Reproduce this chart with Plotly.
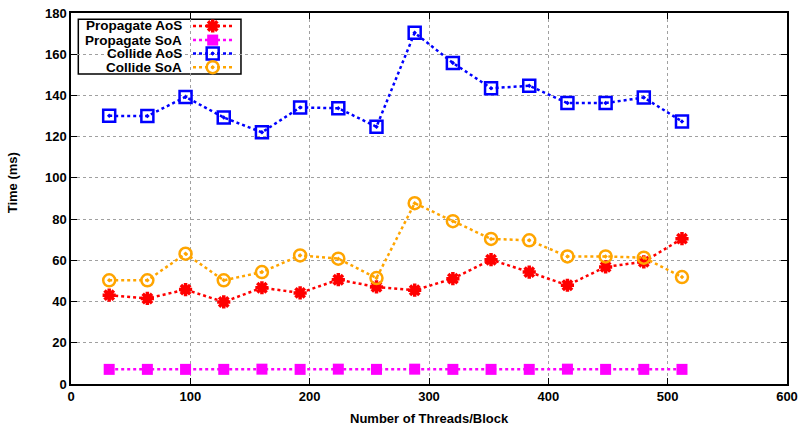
import plotly.graph_objects as go

threads = [32, 64, 96, 128, 160, 192, 224, 256, 288, 320, 352, 384, 416, 448, 480, 512]
propagate_aos = [43.1, 41.5, 45.8, 39.8, 46.7, 44.2, 50.6, 47.1, 45.5, 51.1, 60.3, 54.3, 47.9, 56.8, 59.3, 70.5]
propagate_soa = [7.1, 7.1, 7.1, 7.1, 7.2, 7.1, 7.2, 7.1, 7.2, 7.1, 7.1, 7.1, 7.2, 7.1, 7.1, 7.1]
collide_aos = [130.1, 130.0, 139.3, 129.3, 122.1, 134.2, 133.8, 124.8, 170.4, 155.8, 143.5, 144.7, 136.3, 136.3, 139.0, 127.4]
collide_soa = [50.3, 50.3, 63.2, 50.3, 54.3, 62.4, 60.8, 51.4, 87.7, 79.0, 70.4, 69.7, 61.9, 61.9, 61.3, 51.9]

names = ["Propagate AoS", "Propagate SoA", "Collide AoS", "Collide SoA"]
colors = ["#ff0000", "#ff00ff", "#0000ff", "#ffa500"]
symbols = ["asterisk-open", "square", "square-open-dot", "circle-open-dot"]
sizes = [11, 11, 12, 12]
mlw = [3.5, 0, 2.5, 2.5]
series = [propagate_aos, propagate_soa, collide_aos, collide_soa]

x_ticks = [0, 100, 200, 300, 400, 500, 600]
y_ticks = [0, 20, 40, 60, 80, 100, 120, 140, 160, 180]

FONT = "Liberation Sans, Arial, Helvetica"
DASH = "3px,3px"

fig = go.Figure()
for name, col, sym, sz, lw, ys in zip(names, colors, symbols, sizes, mlw, series):
    fig.add_trace(go.Scatter(
        x=threads, y=ys, name=name, mode="lines+markers",
        line=dict(color=col, width=2.5, dash=DASH),
        marker=dict(symbol=sym, size=sz, color=col, line=dict(color=col, width=lw)),
        showlegend=False,
    ))

# custom legend (gnuplot style: text right-aligned, sample on the right)
row_y = [0.965, 0.927, 0.891, 0.854]
lx0, lxm, lx1 = 0.1704, 0.1979, 0.2263
for name, col, sym, sz, lw, ry in zip(names, colors, symbols, sizes, mlw, row_y):
    fig.add_trace(go.Scatter(
        x=[lx0, lxm, lx1], y=[ry, ry, ry], mode="lines+markers",
        xaxis="x2", yaxis="y2", showlegend=False, hoverinfo="skip",
        line=dict(color=col, width=2.5, dash=DASH),
        marker=dict(symbol=sym, size=sz, color=col, opacity=[0, 1, 0],
                    line=dict(color=col, width=lw)),
    ))
    fig.add_annotation(x=0.1578, y=ry, xref="paper", yref="paper", text="<b>" + name + "</b>",
                       showarrow=False, xanchor="right", yanchor="middle",
                       font=dict(family=FONT, size=13.5, color="black"))

fig.add_shape(type="rect", xref="paper", yref="paper", x0=0.0102, x1=0.2374, y0=0.8356, y1=0.983,
              line=dict(color="black", width=1.5), fillcolor="white", layer="below")

# axis titles
fig.add_annotation(x=0.5, y=-0.093, xref="paper", yref="paper", text="<b>Number of Threads/Block</b>",
                   showarrow=False, xanchor="center", yanchor="middle",
                   font=dict(family=FONT, size=13, color="black"))
fig.add_annotation(x=-0.0805, y=0.542, xref="paper", yref="paper", text="<b>Time (ms)</b>",
                   showarrow=False, xanchor="center", yanchor="middle", textangle=-90,
                   font=dict(family=FONT, size=13, color="black"))

axis_common = dict(
    showline=True, linecolor="black", linewidth=1.5, mirror="ticks",
    ticks="inside", ticklen=6, tickwidth=1, tickcolor="black",
    showgrid=True, gridcolor="#a0a0a0", griddash="dot", gridwidth=1,
    zeroline=False, automargin=False,
    tickfont=dict(family=FONT, size=13, color="black", weight="bold"),
)

fig.update_layout(
    width=802, height=425,
    margin=dict(l=71, r=15, t=13, b=41),
    plot_bgcolor="white", paper_bgcolor="white",
    xaxis=dict(range=[0, 600], tickvals=x_ticks, ticktext=[str(v) for v in x_ticks], **axis_common),
    yaxis=dict(range=[0, 180], tickvals=y_ticks, ticktext=[str(v) for v in y_ticks], **axis_common),
    xaxis2=dict(range=[0, 1], overlaying="x", visible=False, fixedrange=True),
    yaxis2=dict(range=[0, 1], overlaying="y", visible=False, fixedrange=True),
)

fig.write_html("out.html", config={"displayModeBar": False},
               post_script="document.body.style.margin='0px';document.body.style.overflow='hidden';")
